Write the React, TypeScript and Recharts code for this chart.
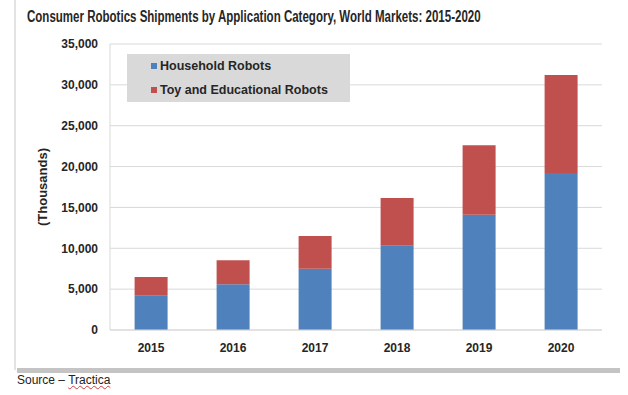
import { Bar, BarChart, CartesianGrid, Legend, XAxis, YAxis } from "recharts"

const years = ["2015", "2016", "2017", "2018", "2019", "2020"]
const household = [4200, 5600, 7500, 10300, 14100, 19200]
const toyEducational = [2300, 2950, 4000, 5850, 8500, 12000]
const yTicks = [0, 5000, 10000, 15000, 20000, 25000, 30000, 35000]

const data = years.map((year, i) => ({
  year,
  household: household[i],
  toy: toyEducational[i],
}))

const sans = "'Liberation Sans', Arial, sans-serif"
const grid = "#d9d9d9"
const ink = "#262626"

function LegendBox(props: any) {
  const items = props.payload || []
  return (
    <div style={{ background: "#d9d9d9", width: 223, height: 48, boxSizing: "border-box", paddingLeft: 24, paddingTop: 0 }}>
      {items.map((item: any) => (
        <div key={item.value} style={{ display: "flex", alignItems: "center", height: 24, fontFamily: sans, fontWeight: "bold", fontSize: 12.5, color: ink }}>
          <span style={{ display: "inline-block", width: 6, height: 6, background: item.color, marginRight: 3 }} />
          {item.value}
        </div>
      ))}
    </div>
  )
}

export default function App() {
  return (
    <div style={{ position: "absolute", left: 0, top: 0, width: 628, height: 395, background: "#fff", overflow: "hidden" }}>
      <div style={{ position: "absolute", left: 14, top: 0, width: 2, height: 370, background: "#e3e3e3" }} />
      <div style={{ position: "absolute", left: 17, top: 368, width: 603, height: 5, background: "#c4c4c4" }} />
      <div
        style={{
          position: "absolute",
          left: 27,
          top: 8,
          fontFamily: sans,
          fontWeight: "bold",
          fontSize: 16,
          color: ink,
          whiteSpace: "nowrap",
          transform: "scaleX(0.72)",
          transformOrigin: "left top",
        }}
      >
        Consumer Robotics Shipments by Application Category, World Markets: 2015-2020
      </div>
      <div style={{ position: "absolute", left: 17, top: 373, fontFamily: sans, fontSize: 12, color: "#222", whiteSpace: "nowrap" }}>
        Source – <span style={{ textDecoration: "underline wavy #d04040", textDecorationThickness: 1 }}>Tractica</span>
      </div>
      <div style={{ position: "absolute", left: 0, top: 0 }}>
        <BarChart width={628} height={395} data={data} margin={{ top: 44, right: 26, bottom: 35, left: 0 }} barCategoryGap="30%">
          <CartesianGrid vertical={false} stroke={grid} />
          <XAxis
            dataKey="year"
            height={30}
            tickLine={false}
            axisLine={{ stroke: grid }}
            tickMargin={7}
            tick={{ fontFamily: sans, fontWeight: "bold", fontSize: 12, fill: ink }}
          />
          <YAxis
            width={110}
            domain={[0, 35000]}
            ticks={yTicks}
            interval={0}
            tickLine={false}
            axisLine={{ stroke: grid }}
            tickMargin={6}
            tickFormatter={(v: number) => v.toLocaleString("en-US")}
            tick={{ fontFamily: sans, fontWeight: "bold", fontSize: 12, fill: ink }}
            label={{
              value: "(Thousands)",
              angle: -90,
              position: "insideLeft",
              offset: 42,
              style: { fontFamily: sans, fontWeight: "bold", fontSize: 13, fill: ink, textAnchor: "middle" },
            }}
          />
          <YAxis yAxisId="frame" orientation="right" width={0} tick={false} tickLine={false} axisLine={{ stroke: grid }} domain={[0, 35000]} />
          <Legend
            verticalAlign="middle"
            align="center"
            layout="horizontal"
            content={<LegendBox />}
            wrapperStyle={{ left: 127, top: 54, width: 223, height: 48 }}
          />
          <Bar dataKey="household" name="Household Robots" stackId="a" fill="#4f81bd" isAnimationActive={false} />
          <Bar dataKey="toy" name="Toy and Educational Robots" stackId="a" fill="#c0504d" isAnimationActive={false} />
        </BarChart>
      </div>
    </div>
  )
}
